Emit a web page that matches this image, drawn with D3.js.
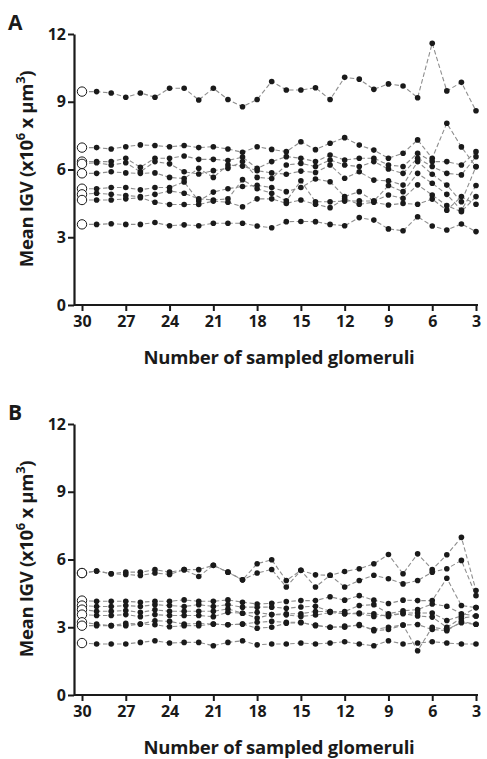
<!DOCTYPE html>
<html>
<head>
<meta charset="utf-8">
<style>
  body { margin: 0; background: #fff; }
  svg { display: block; }
  .tick text, .lbl { font-family: "Open Sans", "Liberation Sans", sans-serif; font-weight: 700; fill: #1a1a1a; }
  .domain, .tick line { stroke: #1a1a1a; }
</style>
</head>
<body>
<svg width="487" height="759"></svg>
<script src="https://cdn.jsdelivr.net/npm/d3@7"></script>
<script>

// number of sampled glomeruli, 30 down to 3
var sampled = [30, 29, 28, 27, 26, 25, 24, 23, 22, 21, 20, 19, 18, 17, 16, 15, 14, 13, 12, 11, 10, 9, 8, 7, 6, 5, 4, 3];
var xTicks = [30, 27, 24, 21, 18, 15, 12, 9, 6, 3];
var yTicks = [0, 3, 6, 9, 12];

// panel A, one array per kidney
var a1 = [9.45, 9.45, 9.39, 9.2, 9.39, 9.2, 9.6, 9.6, 9.08, 9.6, 9.1, 8.78, 9.1, 9.9, 9.52, 9.52, 9.62, 9.1, 10.08, 10.0, 9.55, 9.79, 9.7, 9.18, 11.59, 9.48, 9.86, 8.6];
var a2 = [6.97, 6.97, 6.91, 7.01, 7.09, 7.06, 7.01, 7.06, 6.97, 7.01, 6.91, 6.76, 7.01, 6.89, 6.79, 7.23, 6.88, 7.16, 7.41, 7.08, 6.86, 6.5, 6.72, 7.31, 6.5, 8.05, 7.0, 6.12];
var a3 = [6.35, 6.35, 6.35, 6.5, 6.1, 6.5, 6.5, 6.6, 6.45, 6.45, 6.4, 6.55, 6.05, 6.35, 6.57, 6.5, 6.35, 6.64, 6.42, 6.5, 6.5, 6.2, 6.13, 6.72, 6.35, 6.35, 6.2, 6.79];
var a4 = [6.25, 6.3, 6.2, 6.3, 5.9, 6.35, 6.25, 5.9, 5.8, 5.95, 6.05, 6.35, 5.65, 5.6, 6.2, 6.27, 6.13, 6.42, 6.2, 6.13, 6.35, 6.02, 5.83, 6.5, 6.13, 5.83, 5.76, 6.57];
var a5 = [5.83, 5.83, 5.9, 5.85, 5.83, 5.85, 5.65, 5.6, 6.05, 5.65, 6.2, 6.15, 5.95, 5.85, 5.79, 5.93, 5.87, 6.2, 5.61, 5.9, 5.53, 5.5, 5.31, 6.35, 5.79, 5.31, 4.57, 6.13];
var a6 = [5.15, 5.15, 5.2, 5.2, 5.1, 5.2, 5.2, 5.45, 4.6, 5.0, 5.15, 5.25, 5.3, 5.2, 5.02, 5.2, 5.58, 5.46, 4.8, 5.02, 4.6, 5.29, 5.02, 5.83, 5.39, 4.9, 4.2, 5.29];
var a7 = [4.9, 4.95, 4.9, 4.85, 4.8, 4.9, 5.05, 4.95, 4.7, 4.65, 4.7, 5.55, 5.15, 4.95, 4.61, 5.5, 4.57, 4.57, 4.6, 4.61, 4.6, 4.87, 4.72, 5.32, 4.87, 4.4, 4.13, 4.8];
var a8 = [4.65, 4.65, 4.65, 4.7, 4.75, 4.55, 4.45, 4.45, 4.45, 4.6, 4.55, 4.35, 4.7, 4.7, 4.5, 4.65, 4.46, 4.31, 4.7, 4.46, 4.55, 4.43, 4.5, 4.46, 4.69, 4.2, 4.8, 4.46];
var a9 = [3.57, 3.57, 3.6, 3.57, 3.57, 3.65, 3.51, 3.55, 3.51, 3.62, 3.62, 3.62, 3.5, 3.42, 3.69, 3.7, 3.69, 3.57, 3.51, 3.87, 3.76, 3.37, 3.29, 3.91, 3.5, 3.32, 3.59, 3.25];

// panel B
var b1 = [5.4, 5.49, 5.37, 5.44, 5.44, 5.55, 5.44, 5.55, 5.55, 5.74, 5.44, 5.1, 5.81, 5.99, 5.07, 5.52, 5.32, 5.3, 5.47, 5.59, 5.81, 6.22, 5.37, 6.25, 5.56, 6.21, 6.98, 4.63];
var b2 = [5.4, 5.49, 5.37, 5.34, 5.29, 5.4, 5.34, 5.55, 5.25, 5.74, 5.44, 5.1, 5.4, 5.56, 4.78, 5.52, 4.78, 5.3, 4.78, 5.07, 5.3, 5.15, 4.92, 5.07, 5.44, 5.59, 5.96, 4.4];
var b3 = [4.18, 4.15, 4.15, 4.15, 4.11, 4.15, 4.15, 4.21, 4.15, 4.15, 4.21, 4.11, 4.03, 4.06, 4.14, 4.18, 4.18, 4.35, 4.2, 4.4, 4.2, 4.05, 4.2, 4.18, 4.18, 5.17, 3.96, 3.87];
var b4 = [3.96, 3.92, 3.92, 3.96, 3.92, 4.0, 3.96, 3.92, 4.0, 3.92, 4.0, 3.89, 3.89, 3.89, 3.84, 3.9, 3.93, 3.7, 3.7, 3.96, 4.0, 3.6, 3.73, 3.78, 4.03, 3.93, 3.6, 3.5];
var b5 = [3.78, 3.71, 3.71, 3.74, 3.66, 3.77, 3.71, 3.71, 3.71, 3.71, 3.81, 3.62, 3.66, 3.56, 3.6, 3.6, 3.7, 3.7, 3.6, 3.63, 3.6, 3.48, 3.63, 3.63, 3.63, 3.3, 3.5, 3.87];
var b6 = [3.56, 3.52, 3.52, 3.56, 3.47, 3.56, 3.52, 3.52, 3.52, 3.47, 3.66, 3.62, 3.41, 3.56, 3.55, 3.48, 3.54, 3.65, 3.6, 3.6, 3.48, 3.55, 3.6, 3.5, 3.45, 3.0, 3.4, 3.5];
var b7 = [3.22, 3.14, 3.07, 3.17, 3.14, 3.29, 3.26, 3.14, 3.17, 3.14, 3.11, 3.14, 3.22, 3.26, 3.22, 3.22, 3.07, 3.0, 3.0, 3.12, 2.85, 2.9, 3.1, 3.12, 2.9, 2.85, 3.25, 3.13];
var b8 = [3.07, 3.07, 3.07, 3.07, 3.14, 3.11, 3.02, 3.07, 3.07, 3.14, 3.11, 3.14, 2.96, 3.0, 3.18, 3.2, 3.1, 3.0, 3.05, 3.08, 2.9, 3.0, 3.1, 1.96, 3.0, 2.9, 3.2, 3.13];
var b9 = [2.3, 2.26, 2.26, 2.26, 2.33, 2.4, 2.3, 2.33, 2.33, 2.18, 2.33, 2.4, 2.22, 2.26, 2.26, 2.3, 2.26, 2.3, 2.36, 2.26, 2.18, 2.4, 2.26, 2.3, 2.36, 2.3, 2.26, 2.26];

var panels = [
  { label: "A", top: 0, series: [a1, a2, a3, a4, a5, a6, a7, a8, a9] },
  { label: "B", top: 390, series: [b1, b2, b3, b4, b5, b6, b7, b8, b9] }
];

var svg = d3.select("svg");

var x = d3.scaleLinear().domain([30, 3]).range([82, 476]);

panels.forEach(function(p) {
  var g = svg.append("g").attr("transform", "translate(0," + p.top + ")");
  var y = d3.scaleLinear().domain([0, 12]).range([305, 34]);

  var line = d3.line()
    .x(function(d, i) { return x(sampled[i]); })
    .y(function(d) { return y(d); });

  g.selectAll(".ln").data(p.series).enter().append("path")
    .attr("d", line)
    .attr("fill", "none")
    .attr("stroke", "#8e8e8e")
    .attr("stroke-width", 1.1)
    .attr("stroke-dasharray", "4.5,2.5");

  p.series.forEach(function(s) {
    g.selectAll(null).data(s.slice(1)).enter().append("circle")
      .attr("cx", function(d, i) { return x(sampled[i + 1]); })
      .attr("cy", function(d) { return y(d); })
      .attr("r", 2.8)
      .attr("fill", "#1a1a1a");
  });

  // open circles for the full sample of 30
  g.selectAll(".open").data(p.series).enter().append("circle")
    .attr("cx", x(30))
    .attr("cy", function(s) { return y(s[0]); })
    .attr("r", 4.7)
    .attr("fill", "#fff")
    .attr("stroke", "#1a1a1a")
    .attr("stroke-width", 1);

  var yAxis = g.append("g").attr("transform", "translate(74,0)")
    .call(d3.axisLeft(y).tickValues(yTicks).tickSize(6).tickPadding(2).tickSizeOuter(0));
  yAxis.select(".domain").attr("stroke-width", 2.2);
  yAxis.selectAll(".tick line").attr("stroke-width", 2);
  yAxis.selectAll(".tick text").attr("font-size", 16);

  var xAxis = g.append("g").attr("transform", "translate(0,305)");
  xAxis.call(d3.axisBottom(x).tickValues(xTicks).tickSize(6).tickPadding(5).tickSizeOuter(0));
  xAxis.select(".domain").attr("d", "M74,0H478").attr("stroke-width", 2.2);
  xAxis.selectAll(".tick line").attr("stroke-width", 2);
  xAxis.selectAll(".tick text").attr("font-size", 16);

  g.append("text").attr("class", "lbl")
    .attr("x", 279).attr("y", 364)
    .attr("text-anchor", "middle")
    .attr("font-size", 18.5)
    .attr("letter-spacing", -0.2)
    .text("Number of sampled glomeruli");

  var yt = g.append("text").attr("class", "lbl")
    .attr("transform", "translate(33,169) rotate(-90)")
    .attr("text-anchor", "middle")
    .attr("font-size", 18.5)
    .attr("letter-spacing", -0.3);
  yt.append("tspan").text("Mean IGV (x10");
  yt.append("tspan").attr("dy", -8).attr("font-size", 13).text("6");
  yt.append("tspan").attr("dy", 8).text(" x \u03bcm");
  yt.append("tspan").attr("dy", -8).attr("font-size", 13).text("3");
  yt.append("tspan").attr("dy", 8).text(")");

  g.append("text").attr("class", "lbl")
    .attr("x", 8).attr("y", 30)
    .attr("font-size", 21)
    .text(p.label);
});

</script>
</body>
</html>
